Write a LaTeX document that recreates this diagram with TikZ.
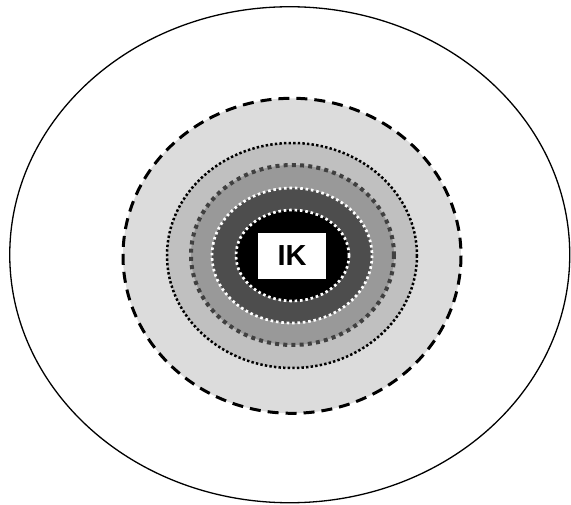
\documentclass[tikz,border=0pt]{standalone}
\usepackage{fontspec}
\setmainfont{Liberation Sans}
\begin{document}
\begin{tikzpicture}[x=1pt,y=-1pt,
  outerring/.style={draw=black,line width=1.3pt},
  lgring/.style={fill=lg,draw=black,line width=3pt,dash pattern=on 11pt off 7pt},
  bdot/.style={fill=mg,draw=black,line width=2.5pt,dash pattern=on 2.4pt off 2.2pt},
  sqdash/.style={fill=dg1,draw=sq,line width=4pt,dash pattern=on 4pt off 4.2pt},
  wdot/.style={draw=white,line width=2.7pt,dash pattern=on 2.6pt off 2.8pt},
  label/.style={fill=white,minimum width=68pt,minimum height=46pt,inner sep=0pt,font=\fontsize{29}{32}\selectfont\bfseries}
]
\definecolor{lg}{HTML}{DCDCDC}
\definecolor{mg}{HTML}{C0C0C0}
\definecolor{dg1}{HTML}{999999}
\definecolor{dg2}{HTML}{4D4D4D}
\definecolor{sq}{HTML}{404040}
\useasboundingbox (0,0) rectangle (571,505);
\draw[outerring] (289.75,254.75) ellipse [x radius=280, y radius=248];
\draw[lgring] (292,255.8) ellipse [x radius=169, y radius=157.5];
\draw[bdot] (292,255.5) ellipse [x radius=125, y radius=112.5];
\draw[sqdash] (292.5,255) ellipse [x radius=101.5, y radius=90];
\draw[wdot,fill=dg2] (292,255.5) ellipse [x radius=80, y radius=67.5];
\draw[wdot,fill=black] (292.5,255.5) ellipse [x radius=56.5, y radius=45.5];
\node[label] (ik) at (292,256) {IK};
\end{tikzpicture}
\end{document}
